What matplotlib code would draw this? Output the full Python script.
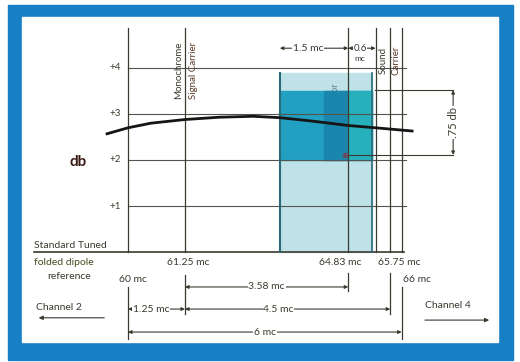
import matplotlib
matplotlib.use('Agg')
import matplotlib.pyplot as plt
from matplotlib.patches import Rectangle

curve_mc = [59.54, 60.0, 60.5, 61.25, 62.0, 62.75, 63.33, 64.0, 64.83, 65.43, 66.23]
curve_db = [2.57, 2.70, 2.80, 2.88, 2.93, 2.95, 2.92, 2.85, 2.75, 2.70, 2.63]
db_ticks = [1, 2, 3, 4]
db_labels = ['+1', '+2', '+3', '+4']
freq_lines = [60.0, 61.25, 64.83, 65.43, 65.75, 66.0]
freq_labels = ['60 mc', '61.25 mc', '64.83 mc', '65.75 mc', '66 mc']
band_lo, band_hi = 63.33, 65.35
band_top = 3.9
dark_lo, dark_hi = 2.0, 3.5
ref_lo, ref_hi = 2.11, 3.52

ink = '#3a3a30'
plt.rcParams['font.family'] = ['Lato', 'DejaVu Sans']

fig = plt.figure(figsize=(5.2, 3.62), dpi=100)
ax = fig.add_axes([0, 0, 1, 1])
ax.set_xlim(57.193, 68.596)
ax.set_ylim(-2.391, 5.478)
ax.axis('off')

# cadre bleu
ax.add_patch(Rectangle((8 / 520, 1 - 360 / 362), 505 / 520, 355 / 362,
                       transform=ax.transAxes, color='#1780c4', zorder=0))
ax.add_patch(Rectangle((22 / 520, 1 - 342 / 362), 476 / 520, 325 / 362,
                       transform=ax.transAxes, color='white', zorder=0))

# bande couleur (le texte "Color Subcarrier" est en partie cache par la bande foncee)
ax.add_patch(Rectangle((band_lo, 0), band_hi - band_lo, band_top,
                       color='#bfe2e8', zorder=1))
ax.text(64.55, 3.45, 'Color', rotation=90, ha='center', va='center',
        fontsize=6.5, color='#5a7a8a', zorder=1.2)
ax.text(64.88, 3.05, 'Subcarrier', rotation=90, ha='center', va='center',
        fontsize=6.5, color='#5a7a8a', zorder=1.2)
ax.add_patch(Rectangle((band_lo, dark_lo), band_hi - band_lo, dark_hi - dark_lo,
                       color='#22a0c2', zorder=1.5))
ax.add_patch(Rectangle((64.3, dark_lo), 0.53, dark_hi - dark_lo,
                       color='#1b86ad', zorder=1.5))
ax.add_patch(Rectangle((64.83, dark_lo), band_hi - 64.83, dark_hi - dark_lo,
                       color='#26b0bc', zorder=1.5))

# grille
for d in db_ticks:
    ax.plot([60, 66.1], [d, d], color='#555550', lw=0.8, zorder=2)
ax.plot([57.93, 66.05], [0, 0], color=ink, lw=1.2, zorder=2)
for f in freq_lines:
    ax.plot([f, f], [0, 4.87], color=ink, lw=0.9, zorder=2)
ax.plot([band_lo, band_lo], [0, band_top], color='#2a6a78', lw=1.5, zorder=2)
ax.plot([band_hi, band_hi], [0, band_top], color='#2a6a78', lw=1.2, zorder=2)

# prolongements sous l'axe
ax.plot([60, 60], [-0.75, -1.9], color=ink, lw=0.9)
ax.plot([61.25, 61.25], [-0.5, -1.35], color=ink, lw=0.9)
ax.plot([64.83, 64.83], [-0.45, -0.85], color=ink, lw=0.9)
ax.plot([65.75, 65.75], [-0.45, -1.35], color=ink, lw=0.9)
ax.plot([66.0, 66.0], [-0.75, -1.9], color=ink, lw=0.9)

# courbe de reponse
ax.plot(curve_mc, curve_db, color='#151515', lw=2.0, zorder=3)

for d, lab in zip(db_ticks, db_labels):
    ax.text(59.85, d, lab, ha='right', va='center', fontsize=7, color=ink)
ax.text(58.9, 1.96, 'db', ha='center', va='center', fontsize=11,
        fontweight='bold', color='#3b1a14')

# etiquettes de frequence
ax.text(61.32, -0.22, freq_labels[1], ha='center', va='center', fontsize=7.5, color=ink)
ax.text(64.65, -0.22, freq_labels[2], ha='center', va='center', fontsize=7.5, color=ink)
ax.text(65.95, -0.22, freq_labels[3], ha='center', va='center', fontsize=7.5, color=ink)
ax.text(60.1, -0.6, freq_labels[0], ha='center', va='center', fontsize=7.5, color=ink)
ax.text(66.03, -0.6, freq_labels[4], ha='left', va='center', fontsize=7.5, color=ink)

ax.text(57.94, 0.15, 'Standard Tuned', ha='left', va='center', fontsize=7.5, color=ink)
ax.text(57.94, -0.22, 'folded dipole', ha='left', va='center', fontsize=7.5, color='#4a4a20')
ax.text(58.22, -0.54, 'reference', ha='left', va='center', fontsize=7.5, color=ink)

# textes verticaux
ax.text(61.1, 3.95, 'Monochrome', rotation=90, ha='center', va='center', fontsize=7, color=ink)
ax.text(61.43, 3.95, 'Signal Carrier', rotation=90, ha='center', va='center', fontsize=7, color='#5a3a28')
ax.text(65.59, 4.17, 'Sound', rotation=90, ha='center', va='center', fontsize=7, color=ink)
ax.text(65.88, 4.17, 'Carrier', rotation=90, ha='center', va='center', fontsize=7, color='#5a3a28')

# cotes
def cote(x0, x1, y, txt, xt=None):
    ax.annotate('', xy=(x0, y), xytext=(x1, y),
                arrowprops=dict(arrowstyle='<|-|>', color=ink, lw=0.8,
                                mutation_scale=5, shrinkA=0, shrinkB=0))
    if xt is None:
        xt = (x0 + x1) / 2
    ax.text(xt, y, txt, ha='center', va='center', fontsize=7.5, color=ink,
            bbox=dict(fc='white', ec='none', pad=0.5))

cote(61.25, 64.83, -0.76, '3.58 mc')
cote(60.0, 61.25, -1.24, '1.25 mc', xt=60.5)
cote(61.25, 65.75, -1.24, '4.5 mc', xt=63.3)
cote(60.0, 66.0, -1.74, '6 mc')
cote(band_lo, 64.83, 4.43, '1.5 mc', xt=63.95)
ax.annotate('', xy=(64.83, 4.43), xytext=(65.43, 4.43),
            arrowprops=dict(arrowstyle='<|-|>', color=ink, lw=0.8,
                            mutation_scale=5, shrinkA=0, shrinkB=0))
ax.text(65.09, 4.43, '0.6', ha='center', va='center', fontsize=7, color=ink,
        bbox=dict(fc='white', ec='none', pad=0.3))
ax.text(65.09, 4.2, 'mc', ha='center', va='center', fontsize=6, color=ink)

# reference .75 db
ax.plot([65.42, 67.13], [ref_hi, ref_hi], color=ink, lw=0.8)
ax.plot([64.76, 67.13], [ref_lo, ref_lo], color=ink, lw=0.8)
ax.plot([64.76], [ref_lo], marker='o', ms=3, color='#6a4a60')
ax.annotate('', xy=(67.13, ref_lo), xytext=(67.13, ref_hi),
            arrowprops=dict(arrowstyle='<|-|>', color=ink, lw=0.8,
                            mutation_scale=5, shrinkA=0, shrinkB=0))
ax.text(67.13, (ref_lo + ref_hi) / 2, '.75 db', rotation=90, ha='center', va='center',
        fontsize=8, color=ink, bbox=dict(fc='white', ec='none', pad=0.5))

# canaux voisins
ax.text(57.98, -1.2, 'Channel 2', ha='left', va='center', fontsize=7.5, color=ink)
ax.annotate('', xy=(57.98, -1.43), xytext=(59.54, -1.43),
            arrowprops=dict(arrowstyle='-|>', color=ink, lw=0.8, mutation_scale=6))
ax.text(66.51, -1.17, 'Channel 4', ha='left', va='center', fontsize=7.5, color=ink)
ax.annotate('', xy=(67.98, -1.48), xytext=(66.45, -1.48),
            arrowprops=dict(arrowstyle='-|>', color=ink, lw=0.8, mutation_scale=6))

fig.savefig('out.png', dpi=100)
